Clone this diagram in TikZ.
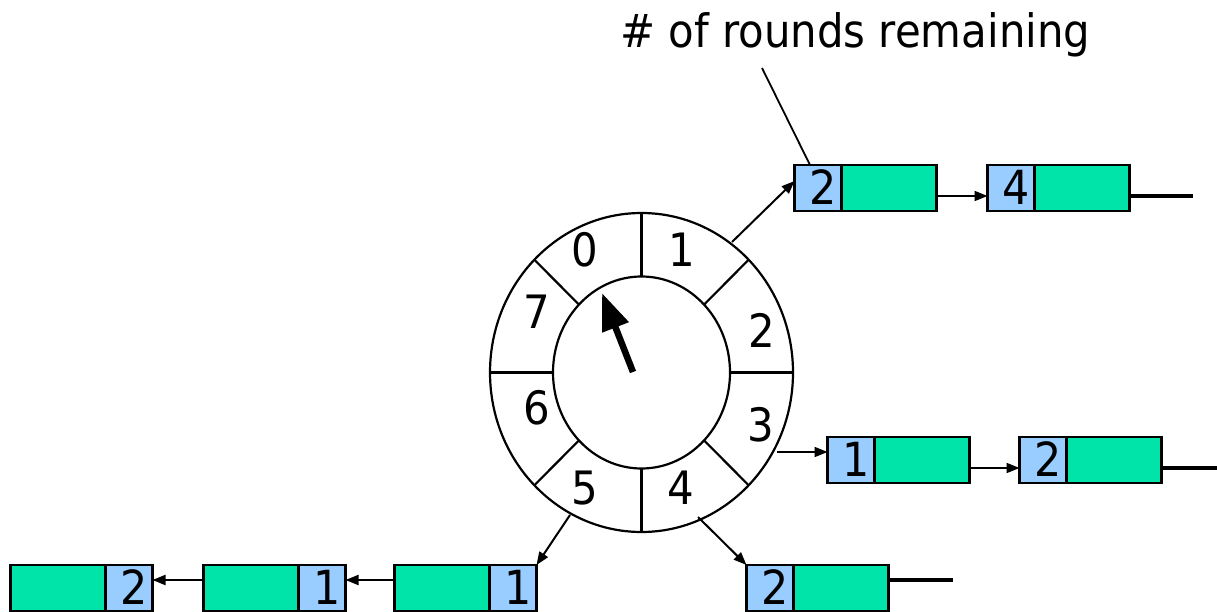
\documentclass[tikz,border=0pt]{standalone}
\usepackage{fontspec}
\setmainfont{DejaVu Sans}[FakeStretch=0.91]
\usetikzlibrary{arrows.meta,calc}
\definecolor{keyblue}{HTML}{99CCFF}
\definecolor{slotgreen}{HTML}{00E3A9}
\begin{document}
\begin{tikzpicture}[x=1pt,y=-1pt,
  keycell/.style={draw, line width=2.6pt, fill=keyblue, minimum width=47pt,
    minimum height=46pt, inner sep=0pt, outer sep=0pt,
    label={[font=\fontsize{47}{47}\selectfont, inner sep=0pt, anchor=east,
            xshift=-5pt, yshift=1pt]east:#1}},
  datacell/.style={draw, line width=2.6pt, fill=slotgreen, minimum width=95pt,
    minimum height=46pt, inner sep=0pt, outer sep=0pt},
  link/.style={line width=2pt, -{Triangle[length=13pt,width=10pt]}},
  tail/.style={line width=4pt},
  ring/.style={line width=2.2pt},
  slotnum/.style={font=\fontsize{46}{46}\selectfont, inner sep=0pt}]
\useasboundingbox (0,0) rectangle (1217,612);

% timing wheel
\coordinate (hub) at (641.5,372.5);
\draw[ring] (hub) ellipse [x radius=151.5, y radius=159.5];
\draw[ring] (hub) ellipse [x radius=88.5, y radius=96];
\foreach \a in {0,45,...,315}
  \draw[ring] ($(hub)+({88.5*cos(\a)},{96*sin(\a)})$) --
              ($(hub)+({151.5*cos(\a)},{159.5*sin(\a)})$);
\node[slotnum] (n0) at (585,250) {0};
\node[slotnum] (n1) at (682,250) {1};
\node[slotnum] (n2) at (762,330) {2};
\node[slotnum] (n3) at (761,425) {3};
\node[slotnum] (n4) at (681,488) {4};
\node[slotnum] (n5) at (585,488) {5};
\node[slotnum] (n6) at (537,408) {6};
\node[slotnum] (n7) at (537,312) {7};

% current-slot pointer
\coordinate (ptail) at (633,372);
\coordinate (ptip) at (602,293);
\draw[line width=6.5pt, -{Triangle[length=37pt,width=27pt]}] (ptail) -- (ptip);

% slot 1 list
\node[keycell=2] (t1k) at (818,188) {};
\node[datacell, anchor=west] (t1d) at (t1k.east) {};
\node[keycell=4] (t2k) at (1011,188) {};
\node[datacell, anchor=west] (t2d) at (t2k.east) {};
\coordinate (h1) at (732,242);
\coordinate (t2end) at (1193,196);
\draw[link] (h1) -- ([yshift=7pt]t1k.west);
\draw[link] ([yshift=-8pt]t1d.east) -- ([yshift=-8pt]t2k.west);
\draw[tail] ([yshift=-8pt]t2d.east) -- (t2end);

% caption and leader
\node[anchor=base west, inner sep=0pt, font=\fontsize{46}{46}\selectfont]
  (title) at (620,48) {\# of rounds remaining};
\coordinate (lead) at (762,68);
\draw[line width=1.8pt] (lead) -- ([xshift=-8pt]t1k.north);

% slot 3 list
\node[keycell=1] (m1k) at (851,460) {};
\node[datacell, anchor=west] (m1d) at (m1k.east) {};
\node[keycell=2] (m2k) at (1043,460) {};
\node[datacell, anchor=west] (m2d) at (m2k.east) {};
\coordinate (h3) at (777,452);
\coordinate (m2end) at (1217,468);
\draw[link] (h3) -- (h3 -| m1k.west);
\draw[link] ([yshift=-8pt]m1d.east) -- ([yshift=-8pt]m2k.west);
\draw[tail] ([yshift=-8pt]m2d.east) -- (m2end);

% slot 4 list
\node[keycell=2] (r1k) at (770,588) {};
\node[datacell, anchor=west] (r1d) at (r1k.east) {};
\coordinate (h4) at (698,517);
\coordinate (r1end) at (953,580);
\draw[link] (h4) -- (r1k.north west);
\draw[tail] ([yshift=8pt]r1d.east) -- (r1end);

% slot 5 list
\node[keycell=1] (ck) at (513,588) {};
\node[datacell, anchor=east] (cd) at (ck.west) {};
\node[keycell=1] (bk) at (322,588) {};
\node[datacell, anchor=east] (bd) at (bk.west) {};
\node[keycell=2] (ak) at (129,588) {};
\node[datacell, anchor=east] (ad) at (ak.west) {};
\coordinate (h5) at (570,515);
\draw[link] (h5) -- (ck.north east);
\draw[link] ([yshift=8pt]cd.west) -- ([yshift=8pt]bk.east);
\draw[link] ([yshift=8pt]bd.west) -- ([yshift=8pt]ak.east);
\end{tikzpicture}
\end{document}
